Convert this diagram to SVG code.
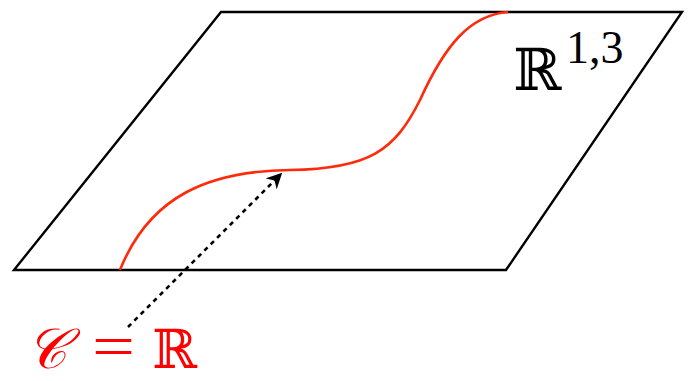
<svg xmlns="http://www.w3.org/2000/svg" width="695" height="381" viewBox="0 0 695 381">
<defs>
<style>
.plane{fill:none;stroke:#000;stroke-width:2.4;stroke-linejoin:miter}
.curve{fill:none;stroke:#ff2a0a;stroke-width:2.6}
.dots{fill:none;stroke:#000;stroke-width:2.6;stroke-dasharray:4.5 4.5}
.math{font-family:"DejaVu Serif","Liberation Serif",serif}
.rm{font-family:"Liberation Serif","DejaVu Serif",serif}
.red{fill:#ff0000}
</style>
<marker id="ah" viewBox="0 0 10 10" refX="8" refY="5" markerWidth="6" markerHeight="6" orient="auto" markerUnits="strokeWidth">
<path d="M0,0 L10,5 L0,10 L3,5 Z" fill="#000"/>
</marker>
</defs>
<g id="plane">
<path class="plane" d="M14,270 L506,270 L682,12 L221,12 Z"/>
<text class="math" x="513" y="90" font-size="58">ℝ</text>
<text class="rm" x="566" y="63" font-size="46">1,3</text>
</g>
<g id="curve">
<path class="curve" d="M120,270 C150,195 210,171 290,170 C370,169 395,150 420,100 C445,45 470,15 508,12"/>
</g>
<g id="label">
<text class="math red" x="26" y="368" font-size="56" font-style="italic">𝒞</text>
<text class="rm red" x="92" y="366" font-size="60" textLength="43" lengthAdjust="spacingAndGlyphs">=</text>
<text class="math red" x="152" y="368" font-size="54">ℝ</text>
</g>
<g id="connectors">
<path class="dots" d="M128,327 L280,175" marker-end="url(#ah)"/>
</g>
</svg>
